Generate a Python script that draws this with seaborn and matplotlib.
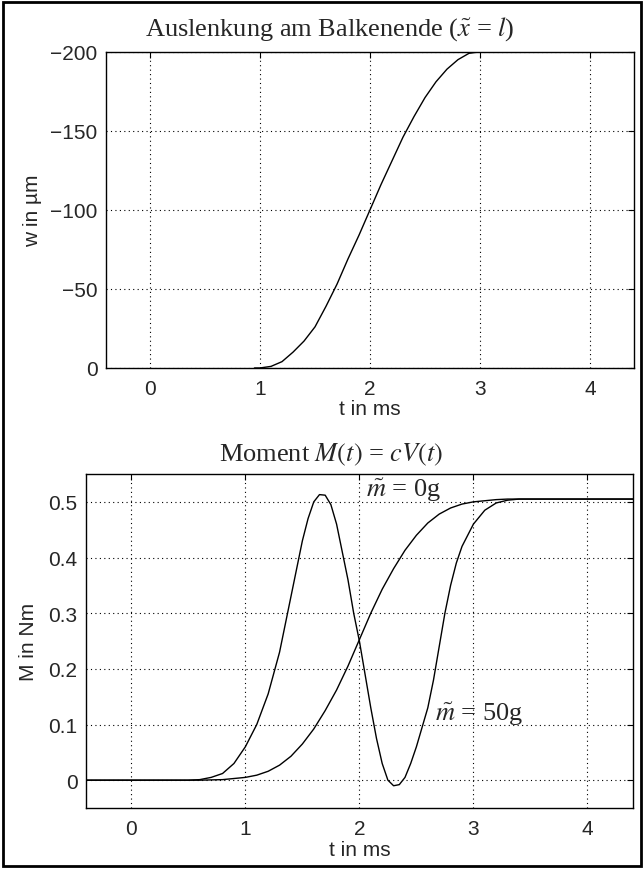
import numpy as np
import pandas as pd
import matplotlib
matplotlib.use("Agg")
import matplotlib.pyplot as plt
import seaborn as sns
from matplotlib.patches import Rectangle

# ---- data ----
t_w = [0.95, 1.0, 1.1, 1.2, 1.3, 1.4, 1.5, 1.6, 1.7, 1.8, 1.9, 2.0,
       2.1, 2.2, 2.3, 2.4, 2.5, 2.6, 2.7, 2.8, 2.9, 3.0]
w_um = [0, 0, -1, -4, -10, -17, -26, -39, -53, -69, -84, -100,
        -116, -131, -146, -159, -171, -181, -189, -195, -199, -200]

t_m0 = [-0.4, 0.6, 0.7, 0.8, 0.9, 1.0, 1.1, 1.2, 1.3, 1.4, 1.5, 1.6, 1.7,
        1.8, 1.9, 2.0, 2.1, 2.2, 2.3, 2.4, 2.5, 2.6, 2.7, 2.8, 2.9, 3.0,
        3.1, 3.2, 3.3, 3.4, 4.4]
M_m0 = [0, 0, 0.0005, 0.001, 0.003, 0.005, 0.009, 0.016, 0.027, 0.043,
        0.065, 0.092, 0.125, 0.162, 0.205, 0.2525, 0.30, 0.343, 0.38,
        0.413, 0.44, 0.462, 0.478, 0.489, 0.496, 0.5, 0.502, 0.504,
        0.505, 0.505, 0.505]

t_m50 = [-0.4, 0.5, 0.6, 0.7, 0.8, 0.9, 1.0, 1.1, 1.2, 1.3, 1.4, 1.5,
         1.55, 1.6, 1.65, 1.7, 1.75, 1.8, 1.85, 1.9, 1.95, 2.0, 2.05,
         2.1, 2.15, 2.2, 2.25, 2.3, 2.35, 2.4, 2.45, 2.5, 2.55, 2.6,
         2.65, 2.7, 2.75, 2.8, 2.85, 2.9, 3.0, 3.1, 3.2, 3.3, 3.4, 4.4]
M_m50 = [0, 0, 0.001, 0.005, 0.012, 0.03, 0.06, 0.10, 0.155, 0.23, 0.33,
         0.43, 0.47, 0.50, 0.513, 0.512, 0.495, 0.46, 0.41, 0.36, 0.30,
         0.25, 0.19, 0.13, 0.075, 0.03, 0.0, -0.01, -0.008, 0.005, 0.03,
         0.06, 0.095, 0.13, 0.18, 0.24, 0.30, 0.35, 0.39, 0.42, 0.46,
         0.485, 0.498, 0.503, 0.505, 0.505]

x_ticks = [0, 1, 2, 3, 4]
w_ticks = [-200, -150, -100, -50, 0]
w_ticklabels = ["\u2212200", "\u2212150", "\u2212100", "\u221250", "0"]
M_ticks = [0, 0.1, 0.2, 0.3, 0.4, 0.5]
M_ticklabels = ["0", "0.1", "0.2", "0.3", "0.4", "0.5"]

title_top = r"Auslenkung am Balkenende ($\tilde{x}$ = $l$)"
title_bot = r"Moment $M(t)$ = $cV(t)$"
label_m0 = r"$\tilde{m}$ = 0g"
label_m50 = r"$\tilde{m}$ = 50g"

# ---- style ----
sns.set_style("white")
plt.rcParams["font.family"] = ["Liberation Sans", "DejaVu Sans"]
plt.rcParams["mathtext.fontset"] = "stix"
plt.rcParams["axes.unicode_minus"] = True

TICK_FS = 15
TITLE_FS = 19
SERIF = ["Liberation Serif", "DejaVu Serif"]

fig = plt.figure(figsize=(6.44, 8.7), dpi=100)
fig.patch.set_facecolor("white")

ax1 = fig.add_axes([0.1646, 0.5759, 0.8199, 0.3635])
ax2 = fig.add_axes([0.1331, 0.0701, 0.8499, 0.3839])

df_w = pd.DataFrame({"t": t_w, "w": w_um})
df0 = pd.DataFrame({"t": t_m0, "M": M_m0})
df50 = pd.DataFrame({"t": t_m50, "M": M_m50})

sns.lineplot(data=df_w, x="t", y="w", ax=ax1, color="black", lw=1.0,
             estimator=None)
sns.lineplot(data=df0, x="t", y="M", ax=ax2, color="black", lw=1.0,
             estimator=None)
sns.lineplot(data=df50, x="t", y="M", ax=ax2, color="black", lw=1.0,
             estimator=None)

for ax in (ax1, ax2):
    ax.set_xlim(-0.4, 4.4)
    ax.set_xticks(x_ticks)
    ax.set_xticklabels([str(v) for v in x_ticks])
    ax.grid(True, color="black", linestyle=(0, (1, 3)), linewidth=0.8)
    ax.tick_params(direction="in", top=True, right=True, length=4,
                   labelsize=TICK_FS, width=0.8, color="black",
                   pad=6)
    ax.tick_params(axis="x", pad=8)
    for s in ax.spines.values():
        s.set_color("black")
        s.set_linewidth(1.0)
    ax.set_xlabel("t in ms", fontsize=TICK_FS, labelpad=1)

ax1.set_ylim(0, -200)
ax1.set_yticks(w_ticks)
ax1.set_yticklabels(w_ticklabels)
ax1.set_ylabel("w in \u00b5m", fontsize=TICK_FS)
ax1.yaxis.set_label_coords(-0.121, 0.5)
ax1.set_title(title_top, fontsize=TITLE_FS, family=SERIF, pad=12, x=0.424)

ax2.set_ylim(-0.05, 0.55)
ax2.set_yticks(M_ticks)
ax2.set_yticklabels(M_ticklabels)
ax2.set_ylabel("M in Nm", fontsize=TICK_FS)
ax2.yaxis.set_label_coords(-0.087, 0.5)
ax2.set_title(title_bot, fontsize=TITLE_FS, family=SERIF, pad=10, x=0.448)

ax2.text(2.06, 0.522, label_m0, fontsize=TITLE_FS, family=SERIF,
         ha="left", va="center")
ax2.text(2.66, 0.12, label_m50, fontsize=TITLE_FS, family=SERIF,
         ha="left", va="center")

fig.patches.append(Rectangle((0.004, 0.003), 0.992, 0.994,
                             transform=fig.transFigure, fill=False,
                             edgecolor="black", linewidth=2.0))

fig.savefig("out.png", dpi=100, facecolor="white")
